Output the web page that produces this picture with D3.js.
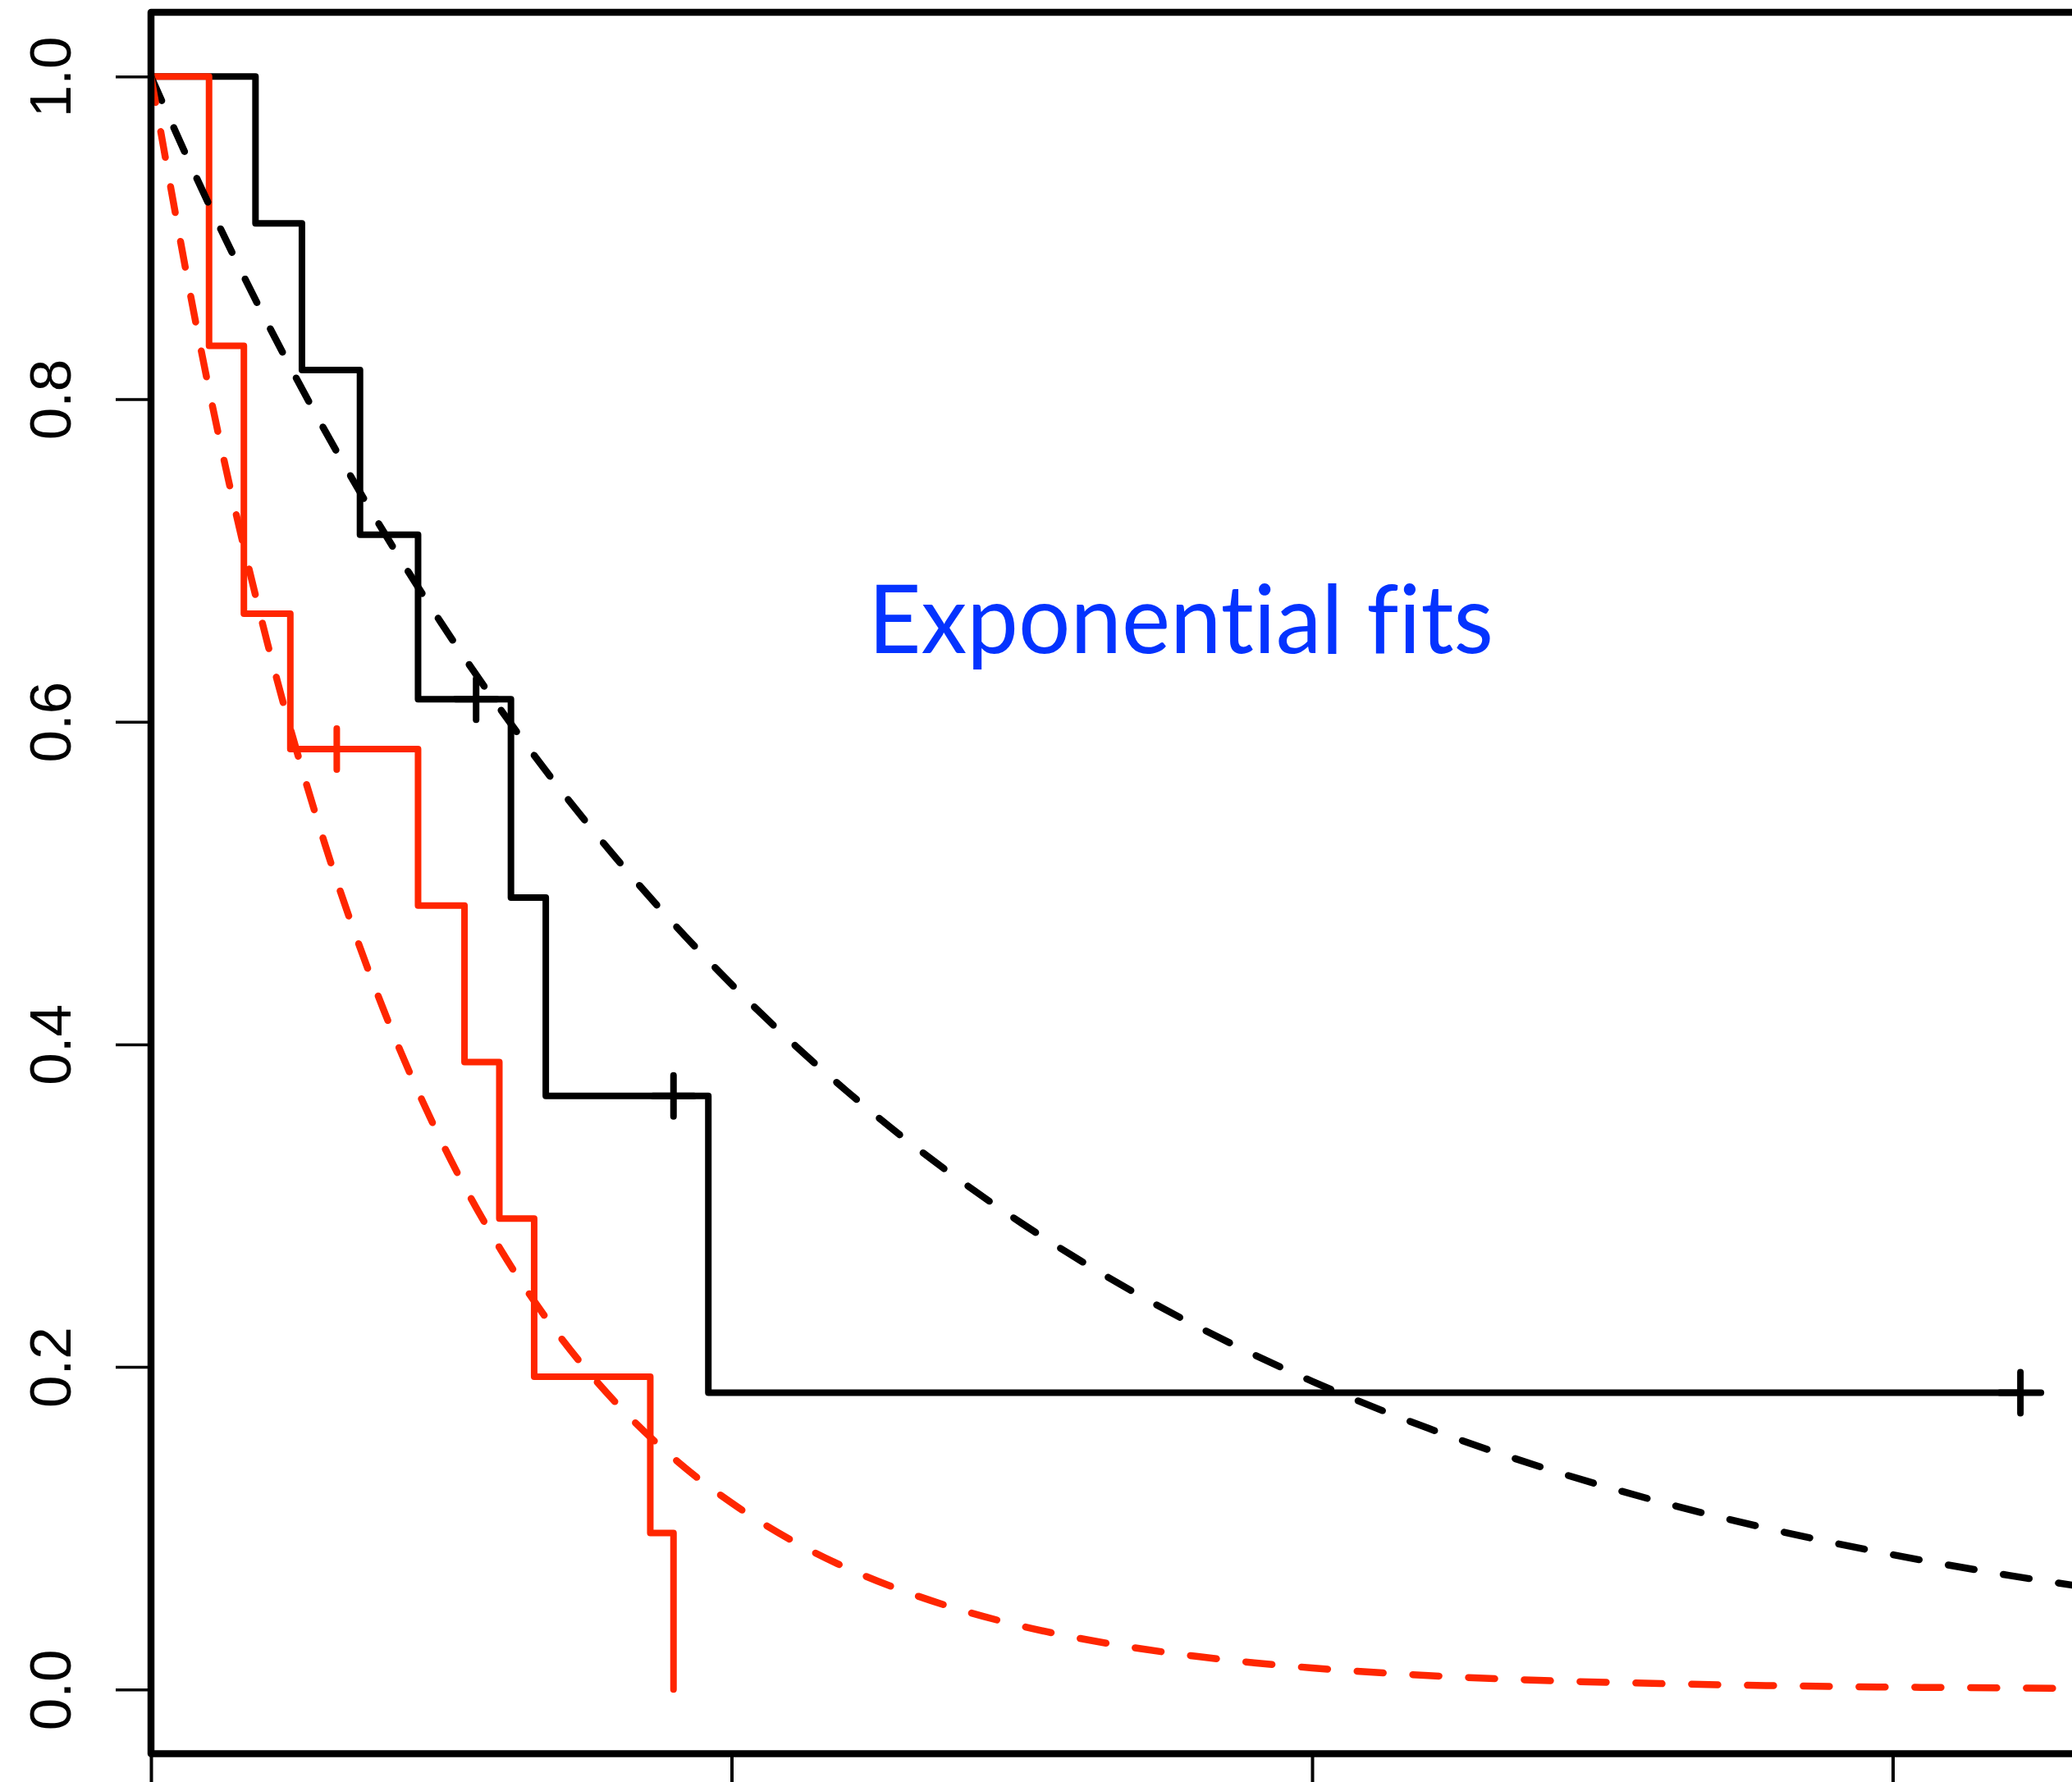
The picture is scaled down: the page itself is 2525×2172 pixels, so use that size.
<!DOCTYPE html>
<html>
<head>
<meta charset="utf-8">
<script src="https://cdn.jsdelivr.net/npm/d3@7"></script>
<style>
  html, body { margin: 0; padding: 0; background: #ffffff; }
  svg { display: block; }
</style>
</head>
<body>
<div id="chart"></div>
<script>
// ---- Kaplan-Meier step data (black group) ----
const blackTimes = [0, 9, 13, 18, 23, 31, 34, 48, 161];
const blackSurv  = [1, 0.909, 0.818, 0.716, 0.614, 0.491, 0.368, 0.184, 0.184];
const blackCensorTimes = [28, 45, 161];
const blackCensorSurv  = [0.614, 0.368, 0.184];

// ---- Kaplan-Meier step data (red group) ----
const redTimes = [0, 5, 8, 12, 23, 27, 30, 33, 43, 45];
const redSurv  = [1, 0.833, 0.667, 0.583, 0.486, 0.389, 0.292, 0.194, 0.097, 0];
const redCensorTimes = [16];
const redCensorSurv  = [0.583];

// ---- Fitted exponential curves ----
const fitTimes = [0,5,10,15,20,25,30,35,40,45,50,55,60,65,70,75,80,85,90,95,100,110,120,130,140,150,160,170];
const blackFit = [1,0.9206,0.8475,0.7802,0.7182,0.6612,0.6087,0.5603,0.5159,0.4749,0.4372,0.4024,0.3705,0.3410,0.3140,0.2890,0.2661,0.2449,0.2255,0.2076,0.1911,0.1620,0.1373,0.1163,0.0986,0.0836,0.0708,0.0600];
const redFit   = [1,0.8060,0.6496,0.5236,0.4220,0.3401,0.2741,0.2209,0.1781,0.1435,0.1157,0.0932,0.0751,0.0606,0.0488,0.0393,0.0317,0.0256,0.0206,0.0166,0.0134,0.0087,0.0056,0.0037,0.0024,0.0015,0.0010,0.0006];

// ---- Axis ticks and annotation ----
const yTicks = [0, 0.2, 0.4, 0.6, 0.8, 1.0];
const xTicks = [0, 50, 100, 150];
const annotation = "Exponential fits";

const W = 2525, H = 2172;
const svg = d3.select("#chart").append("svg")
  .attr("width", W).attr("height", H)
  .attr("viewBox", `0 0 ${W} ${H}`);

const x = d3.scaleLinear().domain([0, 150]).range([184, 2306.5]);
const y = d3.scaleLinear().domain([0, 1]).range([2059.3, 93.3]);

const frame = { left: 184, top: 15, bottom: 2137.5, right: 2600 };

svg.append("defs").append("clipPath").attr("id", "plotclip")
  .append("rect")
  .attr("x", frame.left).attr("y", frame.top)
  .attr("width", frame.right - frame.left).attr("height", frame.bottom - frame.top);

const plot = svg.append("g").attr("clip-path", "url(#plotclip)");

const BLACK = "#000000", RED = "#FF2600", BLUE = "#0433FF";

const stepLine = d3.line().x(d => x(d[0])).y(d => y(d[1])).curve(d3.curveStepAfter);
const smoothLine = d3.line().x(d => x(d[0])).y(d => y(d[1])).curve(d3.curveMonotoneX);

// KM steps
plot.append("path")
  .datum(d3.zip(blackTimes, blackSurv))
  .attr("d", stepLine)
  .attr("fill", "none").attr("stroke", BLACK).attr("stroke-width", 8)
  .attr("stroke-linejoin", "round").attr("stroke-linecap", "round");

plot.append("path")
  .datum(d3.zip(redTimes, redSurv))
  .attr("d", stepLine)
  .attr("fill", "none").attr("stroke", RED).attr("stroke-width", 8)
  .attr("stroke-linejoin", "round").attr("stroke-linecap", "round");

// censor marks (+)
function drawCensor(times, surv, color) {
  const pts = d3.zip(times, surv);
  const g = plot.append("g").attr("stroke", color).attr("stroke-width", 8).attr("stroke-linecap", "round");
  g.selectAll("line.v").data(pts).join("line").attr("class", "v")
    .attr("x1", d => x(d[0])).attr("x2", d => x(d[0]))
    .attr("y1", d => y(d[1]) - 25).attr("y2", d => y(d[1]) + 25);
  g.selectAll("line.h").data(pts).join("line").attr("class", "h")
    .attr("x1", d => x(d[0]) - 25).attr("x2", d => x(d[0]) + 25)
    .attr("y1", d => y(d[1])).attr("y2", d => y(d[1]));
}
drawCensor(blackCensorTimes, blackCensorSurv, BLACK);
drawCensor(redCensorTimes, redCensorSurv, RED);

// exponential fits (dashed)
plot.append("path")
  .datum(d3.zip(fitTimes, blackFit))
  .attr("d", smoothLine)
  .attr("fill", "none").attr("stroke", BLACK).attr("stroke-width", 8.5)
  .attr("stroke-dasharray", "32 36").attr("stroke-linecap", "round");

plot.append("path")
  .datum(d3.zip(fitTimes, redFit))
  .attr("d", smoothLine)
  .attr("fill", "none").attr("stroke", RED).attr("stroke-width", 8.5)
  .attr("stroke-dasharray", "32 36").attr("stroke-linecap", "round");

// frame (left, top, bottom; right side lies outside the picture)
svg.append("rect")
  .attr("x", frame.left).attr("y", frame.top)
  .attr("width", frame.right - frame.left).attr("height", frame.bottom - frame.top)
  .attr("fill", "none").attr("stroke", BLACK).attr("stroke-width", 8.5)
  .attr("stroke-linejoin", "round");

// y axis
const yAxis = svg.append("g")
  .attr("transform", `translate(${frame.left},0)`)
  .call(d3.axisLeft(y).tickValues(yTicks).tickFormat(d3.format(".1f")).tickSize(43).tickPadding(0));
yAxis.select(".domain").remove();
yAxis.selectAll(".tick line").attr("stroke", BLACK).attr("stroke-width", 3.5);
yAxis.selectAll(".tick text")
  .attr("x", null).attr("dy", null)
  .attr("transform", "translate(-98,0) rotate(-90)")
  .attr("text-anchor", "middle")
  .attr("fill", BLACK)
  .style("font-family", "'Liberation Sans', Arial, Helvetica, sans-serif")
  .style("font-size", "71px");

// x axis (labels fall outside the picture)
const xAxis = svg.append("g")
  .attr("transform", `translate(0,${frame.bottom})`)
  .call(d3.axisBottom(x).tickValues(xTicks).tickFormat("").tickSize(60));
xAxis.select(".domain").remove();
xAxis.selectAll(".tick line").attr("stroke", BLACK).attr("stroke-width", 4);

// annotation
svg.append("text")
  .attr("x", 1058).attr("y", 796)
  .attr("textLength", 762).attr("lengthAdjust", "spacingAndGlyphs")
  .attr("fill", BLUE)
  .style("font-family", "Lato, 'Open Sans', sans-serif")
  .style("font-size", "117px")
  .style("font-variant-ligatures", "none")
  .style("font-feature-settings", "'liga' 0, 'clig' 0, 'dlig' 0")
  .text(annotation);
</script>
</body>
</html>
